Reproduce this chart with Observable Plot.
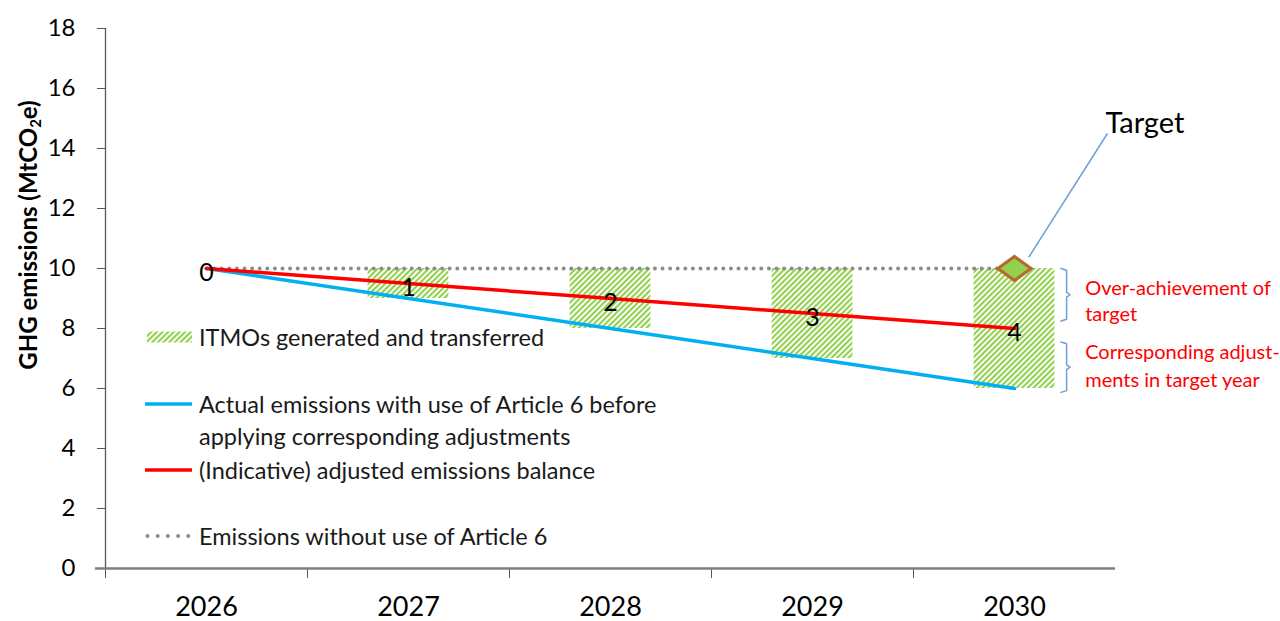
<!DOCTYPE html>
<html><head><meta charset="utf-8">
<script src="https://cdn.jsdelivr.net/npm/d3@7"></script>
<script src="https://cdn.jsdelivr.net/npm/@observablehq/plot@0.6"></script>
<style>
body{margin:0;background:#fff;font-family:Lato,"Open Sans",sans-serif;}
#wrap{position:relative;width:1280px;height:621px;overflow:hidden;}
#wrap > svg{position:absolute;left:0;top:0;}
.ytitle{position:absolute;left:28px;top:235px;transform:translate(-50%,-50%) rotate(-90deg);white-space:nowrap;font-weight:700;font-size:24px;color:#000;}
.ytitle sub{font-size:15px;vertical-align:-4px;}
.leg{position:absolute;left:145px;top:0;font-size:23.5px;color:#1a1a1a;}
.leg .row{position:absolute;left:0;white-space:nowrap;display:flex;align-items:center;}
.leg .sw{width:47px;margin-right:7px;flex:none;display:block;}
.leg .txt{line-height:32px;}
</style></head><body>
<div id="wrap"></div>
<script>
// ---- data ----
const years = [2026, 2027, 2028, 2029, 2030];
const withoutArticle6 = [10, 10, 10, 10, 10];
const actualEmissions = [10, 9, 8, 7, 6];
const adjustedBalance = [10, 9.5, 9, 8.5, 8];
const pointLabels = ["0", "1", "2", "3", "4"];
const yTicks = [0, 2, 4, 6, 8, 10, 12, 14, 16, 18];
const targetYear = 2030;
const targetValue = 10;
const legendLabels = [
  "ITMOs generated and transferred",
  "Actual emissions with use of Article 6 before<br>applying corresponding adjustments",
  "(Indicative) adjusted emissions balance",
  "Emissions without use of Article 6"
];
const annotationOver = ["Over-achievement of", "target"];
const annotationCA = ["Corresponding adjust-", "ments in target year"];

// ---- tables ----
const rows = years.map((year, i) => ({
  year, without: withoutArticle6[i], actual: actualEmissions[i],
  adjusted: adjustedBalance[i], label: pointLabels[i]
}));
const bars = rows.filter(d => d.without - d.actual > 0);
const boundaries = years.map(y => y - 0.5);

const colBlue = "#00b0f0", colRed = "#ff0000", colGrey = "#8c8c8c", colGreen = "#92d050";
const colBrace = "#6f9fd8";

const hatchDefs = () => {
  const defs = d3.create("svg:defs");
  const p = defs.append("pattern").attr("id", "hatch").attr("patternUnits", "userSpaceOnUse")
    .attr("width", 4).attr("height", 4).attr("patternTransform", "rotate(45)");
  p.append("rect").attr("width", 4).attr("height", 4).attr("fill", "#fff");
  p.append("line").attr("x1", 1).attr("y1", 0).attr("x2", 1).attr("y2", 4)
    .attr("stroke", colGreen).attr("stroke-width", 2.2);
  return defs.node();
};

// braces (in data coordinates)
function brace(top, bottom, x0, id) {
  const mid = (top + bottom) / 2;
  return [
    {x: x0, y: top, id}, {x: x0 + 0.028, y: top - 0.06, id},
    {x: x0 + 0.028, y: mid + 0.08, id}, {x: x0 + 0.045, y: mid, id},
    {x: x0 + 0.028, y: mid - 0.08, id}, {x: x0 + 0.028, y: bottom + 0.06, id},
    {x: x0, y: bottom, id}
  ];
}
const braces = [...brace(10, 8.25, 2030.23, "a"), ...brace(7.55, 5.87, 2030.23, "b")];

const diamondSymbol = {
  draw(ctx, size) {
    const w = Math.sqrt(size) * 0.72, h = Math.sqrt(size) * 0.52;
    ctx.moveTo(0, -h); ctx.lineTo(w, 0); ctx.lineTo(0, h); ctx.lineTo(-w, 0); ctx.closePath();
  }
};

const chart = Plot.plot({
  width: 1280, height: 621,
  marginLeft: 105, marginRight: 165, marginTop: 28, marginBottom: 53,
  style: {fontFamily: "Lato, 'Open Sans', sans-serif", color: "#000", background: "transparent"},
  x: {type: "linear", domain: [2025.5, 2030.5]},
  y: {domain: [0, 18]},
  marks: [
    hatchDefs,
    Plot.rect(bars, {x1: d => d.year - 0.2, x2: d => d.year + 0.2, y1: "actual", y2: "without", fill: "url(#hatch)"}),
    Plot.axisY({ticks: yTicks, tickSize: 8, tickPadding: 22, fontSize: 24, label: null, stroke: "#595959"}),
    Plot.ruleX([2025.5], {y1: 0, y2: 18, stroke: "#595959", strokeWidth: 1.3}),
    Plot.axisX({ticks: boundaries, tickSize: 10, tickFormat: () => "", label: null, stroke: "#595959"}),
    Plot.axisX({ticks: years, tickSize: 0, tickPadding: 28, fontSize: 27, tickFormat: d => String(d), label: null}),
    Plot.ruleY([0], {x1: 2025.5 - 0.05, x2: 2030.5, stroke: "#7f7f7f", strokeWidth: 2.5}),
    Plot.line(rows, {x: "year", y: "without", stroke: colGrey, strokeWidth: 4, strokeDasharray: "0 7.6", strokeLinecap: "round"}),
    Plot.line(rows, {x: "year", y: "actual", stroke: colBlue, strokeWidth: 3.5}),
    Plot.line(rows, {x: "year", y: "adjusted", stroke: colRed, strokeWidth: 3.5}),
    Plot.text(rows, {x: "year", y: "adjusted", text: "label", fontSize: 25, dy: 4, fill: "#000"}),
    Plot.link([{x1: targetYear + 0.07, y1: targetValue + 0.37, x2: targetYear + 0.46, y2: 14.5}],
      {x1: "x1", y1: "y1", x2: "x2", y2: "y2", stroke: colBrace, strokeWidth: 1.5}),
    Plot.dot([{x: targetYear, y: targetValue}], {x: "x", y: "y", symbol: diamondSymbol, r: 13, fill: colGreen, stroke: "#b86a2c", strokeWidth: 3.2}),
    Plot.text(["Target"], {x: targetYear + 0.45, y: 14.83, text: d => d, textAnchor: "start", fontSize: 29, fill: "#000"}),
    Plot.line(braces, {x: "x", y: "y", z: "id", stroke: colBrace, strokeWidth: 1.5}),
    Plot.text(annotationOver, {x: targetYear + 0.35, y: (d, i) => 9.33 - i * 0.87, text: d => d, textAnchor: "start", fontSize: 20, fill: colRed}),
    Plot.text(annotationCA, {x: targetYear + 0.35, y: (d, i) => 7.2 - i * 0.95, text: d => d, textAnchor: "start", fontSize: 20, fill: colRed})
  ]
});

const wrap = document.getElementById("wrap");
wrap.appendChild(chart);

const title = document.createElement("div");
title.className = "ytitle";
title.innerHTML = "GHG emissions (MtCO<sub>2</sub>e)";
wrap.appendChild(title);

const leg = document.createElement("div");
leg.className = "leg";
const sw = {
  hatch: '<svg class="sw" width="47" height="12"><rect x="2" y="0.5" width="45" height="11" fill="url(#hatch)"/></svg>',
  blue: `<svg class="sw" width="47" height="6"><line x1="0" x2="47" y1="3" y2="3" stroke="${colBlue}" stroke-width="3.5"/></svg>`,
  red: `<svg class="sw" width="47" height="6"><line x1="0" x2="47" y1="3" y2="3" stroke="${colRed}" stroke-width="3.5"/></svg>`,
  grey: `<svg class="sw" width="47" height="6"><line x1="2.5" x2="47" y1="3" y2="3" stroke="${colGrey}" stroke-width="4" stroke-dasharray="0 10.2" stroke-linecap="round"/></svg>`
};
const legendRows = [
  {sw: sw.hatch, text: legendLabels[0], top: 321},
  {sw: sw.blue, text: legendLabels[1], top: 388, alignTop: true},
  {sw: sw.red, text: legendLabels[2], top: 454},
  {sw: sw.grey, text: legendLabels[3], top: 520}
];
legendRows.forEach(r => {
  const d = document.createElement("div");
  d.className = "row";
  d.style.top = r.top + "px";
  if (r.alignTop) d.style.alignItems = "flex-start";
  d.innerHTML = (r.alignTop ? r.sw.replace('class="sw"', 'class="sw" style="margin-top:13px"') : r.sw) + `<span class="txt">${r.text}</span>`;
  leg.appendChild(d);
});
wrap.appendChild(leg);
</script>
</body></html>
